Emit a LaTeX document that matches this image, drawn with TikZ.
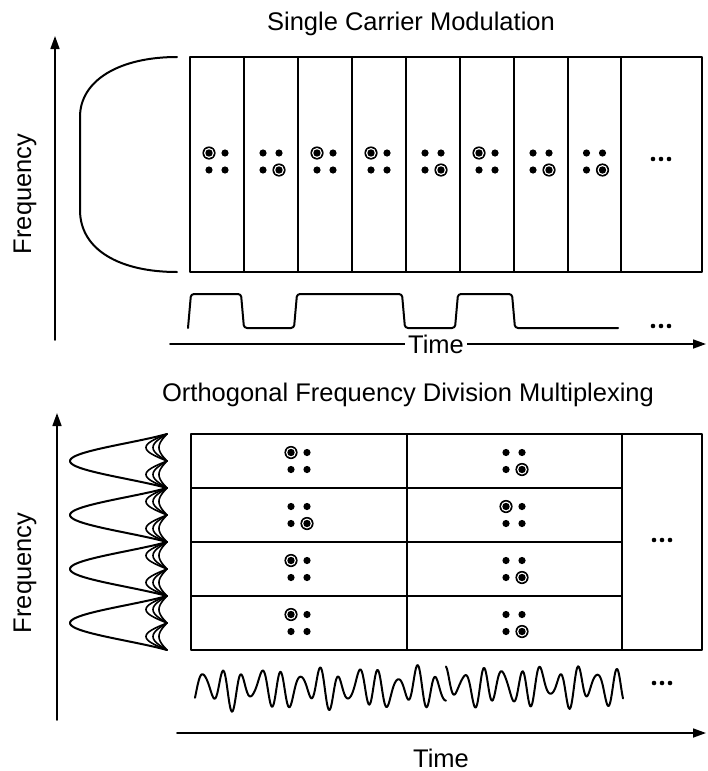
\documentclass[tikz,border=0pt]{standalone}
\usepackage{fontspec}
\setmainfont{Liberation Sans}
\usetikzlibrary{arrows.meta}

\begin{document}
\begin{tikzpicture}[x=1pt,y=-1pt,line join=round,line cap=round]
\useasboundingbox (0,0) rectangle (708,771);
\tikzset{
  axis/.style={line width=1.7pt,-{Triangle[length=13pt,width=9pt]}},
  gridline/.style={line width=1.7pt},
  curve/.style={line width=2pt},
  sidelobe/.style={line width=1.6pt},
  lbl/.style={font=\fontsize{25.5}{30}\selectfont,inner sep=0pt},
  symdot/.pic={\fill (0,0) circle[radius=3.6pt];},
  symring/.pic={\fill (0,0) circle[radius=6.6pt];
                \fill[white] (0,0) circle[radius=5pt];
                \fill (0,0) circle[radius=3.7pt];},
  qamTL/.pic={\pic at (-8,-8.5) {symring}; \pic at (8,-8.5) {symdot};
              \pic at (-8,8.5) {symdot};  \pic at (8,8.5) {symdot};},
  qamBR/.pic={\pic at (-8,-8.5) {symdot}; \pic at (8,-8.5) {symdot};
              \pic at (-8,8.5) {symdot};  \pic at (8,8.5) {symring};},
  more/.pic={\foreach \d in {-8,0,8} \fill (\d,0) circle[radius=2.3pt];},
}

% ---------------- Single carrier modulation ----------------
\node[lbl] (title1) at (411,24) {Single Carrier Modulation};

\coordinate (f1a) at (55,340);
\coordinate (f1b) at (55,36);
\draw[axis] (f1a) -- (f1b);
\node[lbl,rotate=90] (freq1) at (25,194) {Frequency};

% flat single-carrier spectrum
\draw[curve] (177,57) .. controls (120,57) and (80,80) .. (80,117)
  -- (80,210) .. controls (80,250) and (120,272) .. (177,272);

% symbol slots
\draw[gridline] (190,57) rectangle (702,272);
\foreach \xx in {244,298,352,406,460,514,568,621}
  \draw[gridline] (\xx,57) -- (\xx,272);

\pic at (217,161.5) {qamTL};
\pic at (271,161.5) {qamBR};
\pic at (325,161.5) {qamTL};
\pic at (379,161.5) {qamTL};
\pic at (433,161.5) {qamBR};
\pic at (487,161.5) {qamTL};
\pic at (541,161.5) {qamBR};
\pic at (594.5,161.5) {qamBR};
\pic at (661,159) {more};

% baseband pulse train
\draw[curve,rounded corners=3pt] (188,328) -- (191,294) -- (241,294) -- (244,328)
  -- (294,328) -- (297,294) -- (402,294) -- (405,328) -- (455,328) -- (458,294)
  -- (512,294) -- (515,328) -- (618,328);
\pic at (661,326) {more};

\coordinate (t1a) at (170,344);
\coordinate (t1b) at (706,344);
\draw[axis] (t1a) -- (t1b);
\node[lbl,fill=white,inner xsep=3pt] (time1) at (436,344) {Time};

% ---------------- OFDM ----------------
\node[lbl] (title2) at (408,395) {Orthogonal Frequency Division Multiplexing};

\coordinate (f2a) at (57,720);
\coordinate (f2b) at (57,413);
\draw[axis] (f2a) -- (f2b);
\node[lbl,rotate=90] (freq2) at (25,573) {Frequency};

% subcarrier main lobes
\foreach \yc in {461,515,569,623}
  \draw[curve] plot[domain=-1:1,samples=60,smooth,variable=\u]
    ({167-97*sin(180*\u)/(pi*\u)},{\yc+27*\u});
% side lobes of the neighbouring subcarriers
\foreach \k in {0,...,7}
  \foreach \A in {21,14,8}
    \draw[sidelobe] plot[domain=0:1,samples=25,smooth,variable=\u]
      ({167-\A*sin(180*\u)},{434+27*\k+27*\u});

% time-frequency grid
\draw[gridline] (191,434) rectangle (702,650);
\foreach \yy in {488,542,596}
  \draw[gridline] (191,\yy) -- (622,\yy);
\draw[gridline] (407,434) -- (407,650);
\draw[gridline] (622,434) -- (622,650);

\pic at (299,461) {qamTL};
\pic at (299,515) {qamBR};
\pic at (299,569) {qamTL};
\pic at (299,623) {qamTL};
\pic at (514,461) {qamBR};
\pic at (514,515) {qamTL};
\pic at (514,569) {qamBR};
\pic at (514,623) {qamBR};
\pic at (662,540) {more};

% multicarrier time signal, two OFDM symbols
\draw[curve] plot[domain=195:446,samples=260,smooth]
  (\x,{688-15*sin(18.5*(\x-195)-60)-5*sin(26*(\x-195)+40)-4*sin(7*(\x-195))});
\draw[curve] plot[domain=446:623,samples=190,smooth]
  (\x,{686-15*sin(19*(\x-446)+90)-5*sin(27*(\x-446)+150)-4*sin(8*(\x-446)+30)});
\pic at (662,683) {more};

\coordinate (t2a) at (177,733);
\coordinate (t2b) at (706,733);
\draw[axis] (t2a) -- (t2b);
\node[lbl] (time2) at (441,758) {Time};
\end{tikzpicture}
\end{document}
